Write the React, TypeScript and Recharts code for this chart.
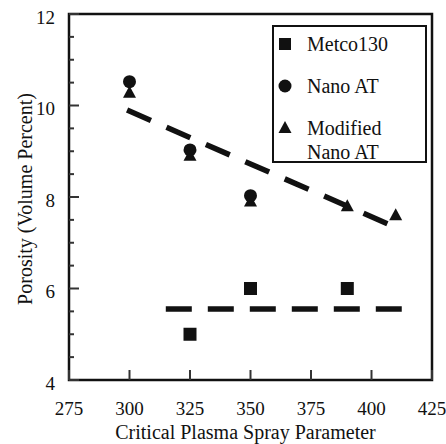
import React from 'react';
import {
  ComposedChart,
  XAxis,
  YAxis,
  Scatter,
  Line,
  ReferenceArea,
  Legend,
} from 'recharts';

// ---- data ----
const metcoX = [325, 350, 390];
const metcoY = [5.0, 6.0, 6.0];
const nanoX = [300, 325, 350];
const nanoY = [10.52, 9.03, 8.03];
const modX = [300, 325, 350, 390, 410];
const modY = [10.28, 8.9, 7.9, 7.8, 7.6];
const upperFitX = [299, 412.5];
const upperFitY = [9.9, 7.28];
const lowerFitX = [315, 412.5];
const lowerFitY = [5.55, 5.55];

const xTicks = [275, 300, 325, 350, 375, 400, 425];
const yTicks = [4, 4.5, 5, 5.5, 6, 6.5, 7, 7.5, 8, 8.5, 9, 9.5, 10, 10.5, 11, 11.5, 12];
const yLabelTicks = [4, 6, 8, 10, 12];
const legendNames = ['Metco130', 'Nano AT', 'Modified', 'Nano AT'];

const zip = (xs: number[], ys: number[]) => xs.map((x, i) => ({ x, y: ys[i] }));
const metco = zip(metcoX, metcoY);
const nano = zip(nanoX, nanoY);
const mod = zip(modX, modY);
const upperFit = zip(upperFitX, upperFitY);
const lowerFit = zip(lowerFitX, lowerFitY);

const FONT = '"Liberation Serif", "Times New Roman", serif';
const INK = '#111';

const Square = (p: any) => (
  <rect x={p.cx - 6.5} y={p.cy - 6.5} width={13} height={13} fill={INK} />
);
const Circle = (p: any) => <circle cx={p.cx} cy={p.cy} r={6.5} fill={INK} />;
const Tri = (p: any) => (
  <polygon
    points={`${p.cx},${p.cy - 7} ${p.cx + 6.5},${p.cy + 5} ${p.cx - 6.5},${p.cy + 5}`}
    fill={INK}
  />
);

const YTick = (p: any) => {
  const v = p.payload.value;
  const major = yLabelTicks.includes(v);
  return (
    <g>
      <path d={`M${p.x},${p.y}h${major ? 10 : 5}`} stroke="#333" strokeWidth={2} fill="none" />
      {major && (
        <text x={p.x - 14} y={p.y + 3} dy="0.35em" textAnchor="end" fontFamily={FONT} fontSize={19} fill={INK}>
          {v}
        </text>
      )}
    </g>
  );
};

const XTick = (p: any) => {
  const v = p.payload.value;
  return (
    <g>
      <path d={`M${p.x},${p.y}v-10`} stroke="#333" strokeWidth={2} fill="none" />
      <text x={p.x} y={p.y + 28} dy="0.35em" textAnchor="middle" fontFamily={FONT} fontSize={19} fill={INK}>
        {v}
      </text>
    </g>
  );
};

const LegendBox = () => {
  const rowY = [17, 59, 101, 125];
  const icon = (i: number) => {
    if (i === 0) return <rect x={5} y={5} width={12} height={12} fill={INK} />;
    if (i === 1) return <circle cx={11} cy={11} r={6.5} fill={INK} />;
    if (i === 2) return <polygon points="11,4 17.5,16 4.5,16" fill={INK} />;
    return null;
  };
  return (
    <div
      style={{
        position: 'relative',
        width: 155,
        height: 138,
        border: `2px solid ${INK}`,
        boxSizing: 'border-box',
        background: '#fff',
        fontFamily: FONT,
        fontSize: 20,
        color: INK,
      }}
    >
      {legendNames.map((name, i) => (
        <div key={i} style={{ position: 'absolute', left: 0, top: rowY[i] - 13, height: 26, width: 150 }}>
          <svg width={22} height={22} style={{ position: 'absolute', left: 0, top: 2 }}>
            {icon(i)}
          </svg>
          <span style={{ position: 'absolute', left: 33, top: 0, lineHeight: '26px', whiteSpace: 'nowrap' }}>
            {name}
          </span>
        </div>
      ))}
    </div>
  );
};

const YTitle = (p: any) => {
  const vb = p.viewBox || { x: 9, y: 14, width: 60, height: 366 };
  const cx = vb.x + 16;
  const cy = vb.y + vb.height / 2 + 2;
  return (
    <text
      x={cx}
      y={cy}
      transform={`rotate(-90 ${cx} ${cy})`}
      textAnchor="middle"
      dominantBaseline="central"
      fontFamily={FONT}
      fontSize={20}
      fill={INK}
    >
      Porosity (Volume Percent)
    </text>
  );
};

const XTitle = (p: any) => {
  const vb = p.viewBox || { x: 69, y: 380, width: 363, height: 50 };
  const cx = vb.x + vb.width / 2 - 5;
  const cy = vb.y + 52;
  return (
    <text x={cx} y={cy} textAnchor="middle" dominantBaseline="central" fontFamily={FONT} fontSize={20} fill={INK}>
      Critical Plasma Spray Parameter
    </text>
  );
};

export default function App() {
  return (
    <div style={{ position: 'absolute', left: 0, top: 0, background: '#fff' }}>
      <ComposedChart width={446} height={444} margin={{ top: 14, right: 14, bottom: 14, left: 9 }}>
        <XAxis
          type="number"
          dataKey="x"
          domain={[275, 425]}
          ticks={xTicks}
          interval={0}
          axisLine={false}
          tickLine={false}
          tickSize={0}
          tickMargin={0}
          height={50}
          tick={<XTick />}
          label={<XTitle />}
          allowDataOverflow
        />
        <YAxis
          type="number"
          domain={[4, 12]}
          ticks={yTicks}
          interval={0}
          axisLine={false}
          tickLine={false}
          tickSize={0}
          tickMargin={0}
          width={60}
          tick={<YTick />}
          label={<YTitle />}
          allowDataOverflow
        />
        <ReferenceArea x1={275} x2={425} y1={4} y2={12} fill="none" stroke={INK} strokeWidth={2.5} fillOpacity={0} />
        <Line
          data={upperFit}
          dataKey="y"
          stroke={INK}
          strokeWidth={5.5}
          strokeDasharray="26 17"
          dot={false}
          activeDot={false}
          isAnimationActive={false}
          legendType="none"
        />
        <Line
          data={lowerFit}
          dataKey="y"
          stroke={INK}
          strokeWidth={5.5}
          strokeDasharray="26 16"
          dot={false}
          activeDot={false}
          isAnimationActive={false}
          legendType="none"
        />
        <Scatter data={metco} dataKey="y" name="Metco130" shape={<Square />} isAnimationActive={false} />
        <Scatter data={mod} dataKey="y" name="Modified Nano AT" shape={<Tri />} isAnimationActive={false} />
        <Scatter data={nano} dataKey="y" name="Nano AT" shape={<Circle />} isAnimationActive={false} />
        <Legend
          layout="vertical"
          align="center"
          verticalAlign="middle"
          content={<LegendBox />}
          wrapperStyle={{ position: 'absolute', left: 272, top: 25, width: 155, height: 138 }}
        />
      </ComposedChart>
    </div>
  );
}
